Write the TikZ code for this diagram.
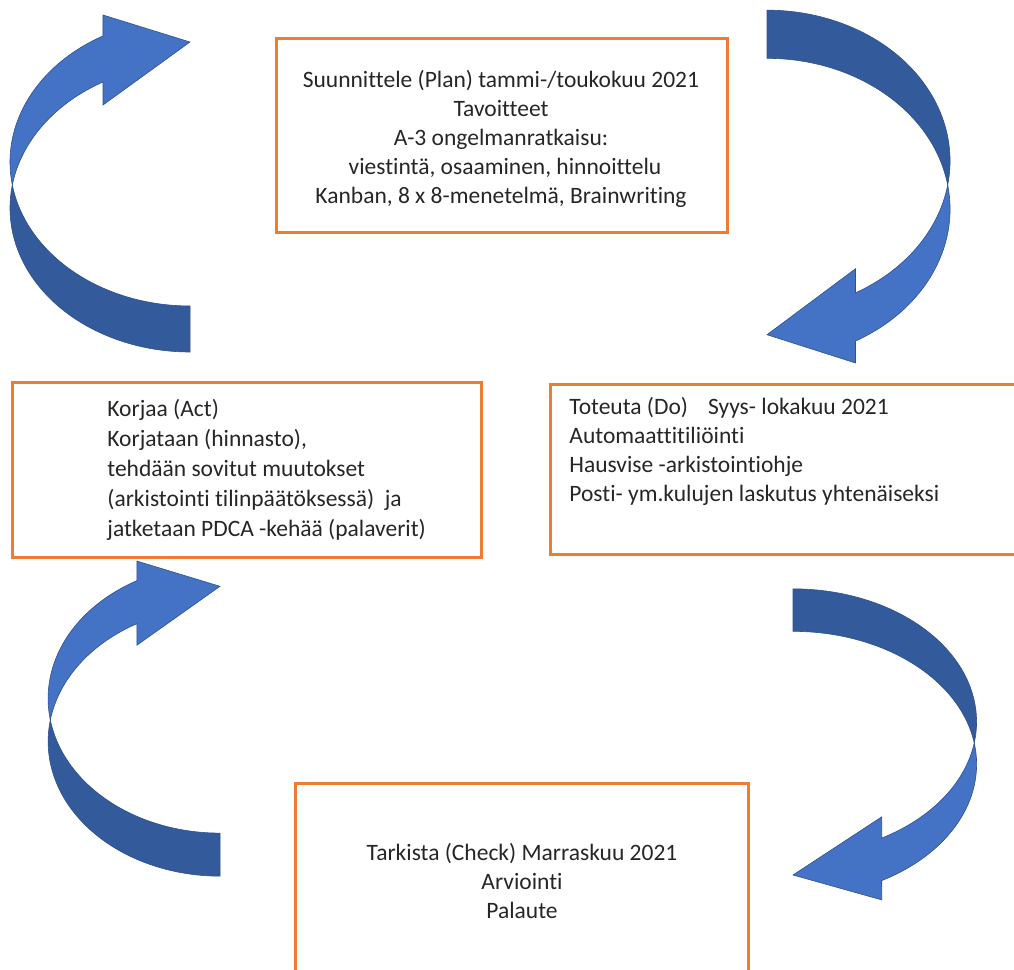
\documentclass[tikz,border=0pt]{standalone}
\usepackage{fontspec}
\setmainfont[Ligatures=NoCommon]{Carlito}
\definecolor{boxorange}{HTML}{ED7D31}
\definecolor{arrowlight}{HTML}{4472C4}
\definecolor{arrowdark}{HTML}{335A9B}
\definecolor{arrowedge}{HTML}{2F528F}
\tikzset{
  stagebox/.style={draw=boxorange, line width=1.5pt},
  stagetext/.style={inner sep=0pt, text=black!85,
    font=\fontsize{11.75}{14.5}\selectfont},
  % curved arrow: two equal ellipses shifted by the shaft width
  cyclearrow/.pic={
    \filldraw[fill=arrowdark, draw=arrowedge, line width=0.3pt] (0,167)
      arc[start angle=90, end angle=189.2, x radius=180, y radius=144]
      arc[start angle=170.8, end angle=90, x radius=180, y radius=144] -- cycle;
    \filldraw[fill=arrowlight, draw=arrowedge, line width=0.3pt] (-177.7,0)
      arc[start angle=170.8, end angle=241.1, x radius=180, y radius=144]
      -- (-87,-170) -- (0,-143) -- (-87,-80) -- (-87,-103)
      arc[start angle=241.1, end angle=189.2, x radius=180, y radius=144] -- cycle;
  }
}
\begin{document}
\begin{tikzpicture}[x=0.5pt, y=-0.5pt]
  \useasboundingbox (0,0) rectangle (1014,970);
  \clip (0,0) rectangle (1014,970);
  % arrows
  \pic at (190,185) {cyclearrow};
  \pic[xscale=0.955, yscale=0.935] at (220,720) {cyclearrow};
  \pic[rotate=180, xscale=1.017, yscale=1.047] at (767,185) {cyclearrow};
  \pic[rotate=180, xscale=1.02, yscale=0.923] at (793,743) {cyclearrow};
  % boxes
  \draw[stagebox] (276,38) rectangle (727,232);
  \draw[stagebox] (12,382) rectangle (481,557);
  \draw[stagebox] (550,384) rectangle (1030,554);
  \draw[stagebox] (295,783) rectangle (748,990);
  % texts
  \node[stagetext, align=center] (plan) at (501,139)
    {Suunnittele (Plan) tammi-/toukokuu 2021\\Tavoitteet\\A-3 ongelmanratkaisu:\\
     \hspace{4pt}viestintä, osaaminen, hinnoittelu\\Kanban, 8 x 8-menetelmä, Brainwriting};
  \node[stagetext, align=left, anchor=west, font=\fontsize{11.75}{15}\selectfont] (act) at (107,470)
    {Korjaa (Act)\\Korjataan (hinnasto),\\tehdään sovitut muutokset\\
     (arkistointi tilinpäätöksessä)~~ja\\jatketaan PDCA -kehää (palaverit)};
  \node[stagetext, align=left, anchor=west] (do) at (569,451)
    {Toteuta (Do)\hspace{10pt}Syys- lokakuu 2021\\Automaattitiliöinti\\
     Hausvise -arkistointiohje\\Posti- ym.kulujen laskutus yhtenäiseksi};
  \node[stagetext, align=center] (check) at (522,881)
    {Tarkista (Check) Marraskuu 2021\\Arviointi\\Palaute};
\end{tikzpicture}
\end{document}
